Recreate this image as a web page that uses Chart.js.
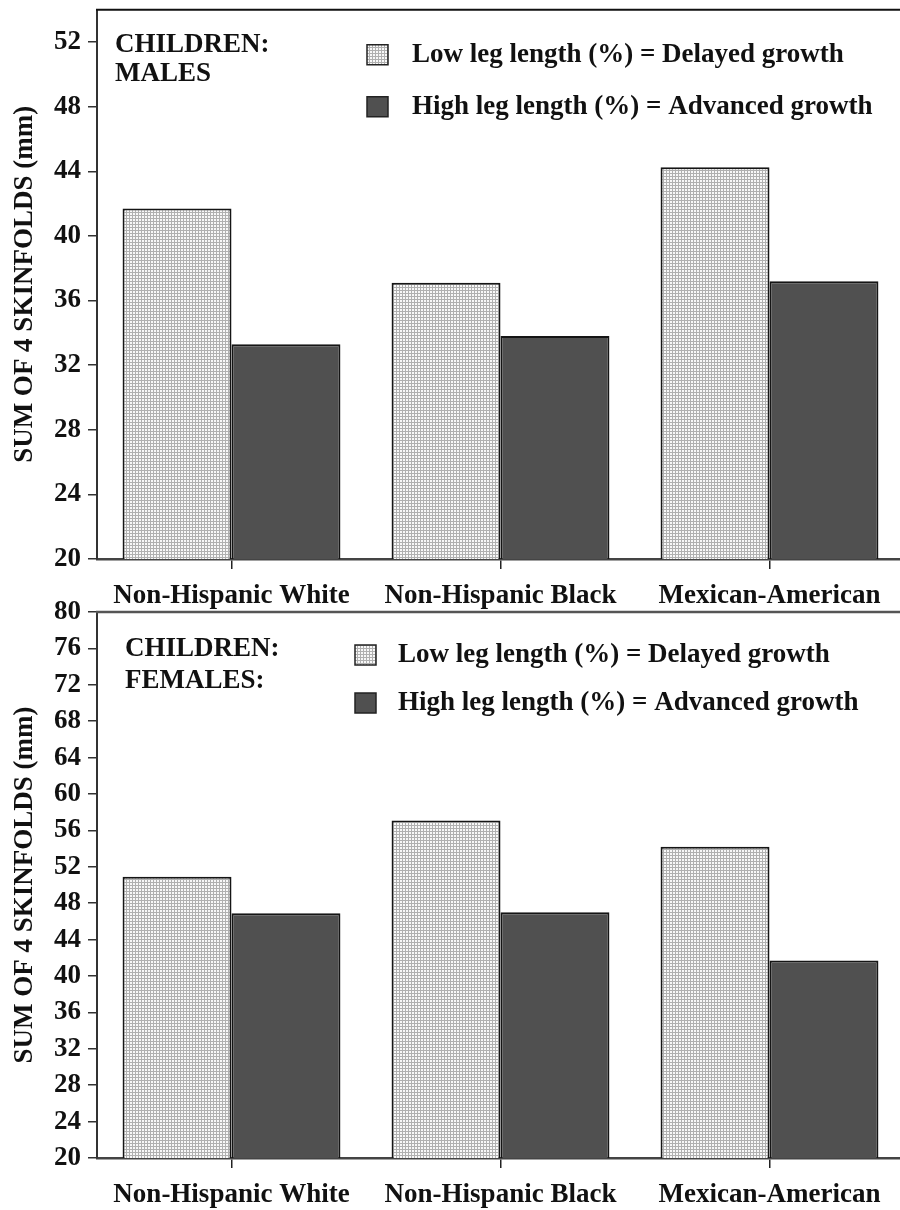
<!DOCTYPE html>
<html>
<head>
<meta charset="utf-8">
<script src="https://cdn.jsdelivr.net/npm/chart.js@4.4.1/dist/chart.umd.min.js"></script>
<style>
    html, body { margin: 0; padding: 0; background: #fff; width: 900px; height: 1210px; overflow: hidden; }
    .panel { position: absolute; left: 0; width: 906px; }
    #topPanel { top: -4px; height: 615px; }
    #bottomPanel { top: 585px; height: 625px; }
</style>
</head>
<body>
<div class="panel" id="topPanel"><canvas id="malesChart"></canvas></div>
<div class="panel" id="bottomPanel"><canvas id="femalesChart"></canvas></div>
<script>
// Sum of 4 skinfolds (mm) by leg length group
const categories = ['Non-Hispanic White', 'Non-Hispanic Black', 'Mexican-American'];
const seriesLabels = ['Low leg length (%) = Delayed growth', 'High leg length (%) = Advanced growth'];

const malesLow = [41.7, 37.1, 44.25];
const malesHigh = [33.3, 33.8, 37.2];
const femalesLow = [50.9, 57.1, 54.2];
const femalesHigh = [46.9, 47.0, 41.7];

const malesNote = ['CHILDREN:', 'MALES'];
const femalesNote = ['CHILDREN:', 'FEMALES:'];

const yTitle = 'SUM OF 4 SKINFOLDS (mm)';
const FONT = '"Liberation Serif", "Times New Roman", serif';

function makeGridPattern(ctx) {
    const tile = document.createElement('canvas');
    tile.width = 3;
    tile.height = 3;
    const t = tile.getContext('2d');
    t.fillStyle = '#f8f8f8';
    t.fillRect(0, 0, 3, 3);
    t.fillStyle = '#b0b0b0';
    t.fillRect(0, 0, 3, 1);
    t.fillRect(0, 0, 1, 3);
    return ctx.createPattern(tile, 'repeat');
}

// top frame line + note text + legend drawn inside the plot area
const panelDecor = {
    id: 'panelDecor',
    afterDraw(chart, args, opts) {
        const { ctx, chartArea } = chart;
        ctx.save();
        ctx.strokeStyle = opts.frameColor;
        ctx.lineWidth = opts.frameWidth;
        ctx.beginPath();
        ctx.moveTo(chartArea.left - 1, chartArea.top);
        ctx.lineTo(chart.width, chartArea.top);
        ctx.stroke();

        ctx.fillStyle = '#111';
        ctx.font = 'bold 27px ' + FONT;
        ctx.textBaseline = 'middle';
        ctx.textAlign = 'left';
        opts.note.forEach((line, i) => {
            ctx.fillText(line, chartArea.left + opts.noteX, chartArea.top + opts.noteY[i]);
        });

        chart.data.datasets.forEach((ds, i) => {
            const bx = chartArea.left + opts.legendX;
            const cy = chartArea.top + opts.legendY[i];
            ctx.fillStyle = ds.backgroundColor;
            ctx.fillRect(bx, cy - 10, 21, 20);
            ctx.strokeStyle = '#222';
            ctx.lineWidth = 1.5;
            ctx.strokeRect(bx, cy - 10, 21, 20);
            ctx.fillStyle = '#111';
            ctx.fillText(ds.label, bx + opts.textGap, cy);
        });
        ctx.restore();
    }
};

function createPanelChart(canvasId, lowValues, highValues, yMax, padTop, decor) {
    const el = document.getElementById(canvasId);
    const ctx = el.getContext('2d');

    return new Chart(el, {
        type: 'bar',
        data: {
            labels: categories,
            datasets: [
                {
                    label: seriesLabels[0],
                    data: lowValues,
                    backgroundColor: makeGridPattern(ctx),
                    borderColor: '#151515',
                    borderWidth: 2,
                    categoryPercentage: 0.81,
                    barPercentage: 1.0
                },
                {
                    label: seriesLabels[1],
                    data: highValues,
                    backgroundColor: '#505050',
                    borderColor: '#151515',
                    borderWidth: 2,
                    categoryPercentage: 0.81,
                    barPercentage: 1.0
                }
            ]
        },
        options: {
            responsive: true,
            maintainAspectRatio: false,
            animation: false,
            layout: { padding: { top: padTop, right: 2, left: 0, bottom: 0 } },
            scales: {
                x: {
                    afterFit: (scale) => {
                        scale.height = 52;
                    },
                    grid: {
                        display: true,
                        offset: false,
                        drawOnChartArea: false,
                        drawTicks: true,
                        tickLength: 10,
                        color: '#222',
                        lineWidth: 1.5
                    },
                    border: { display: true, color: '#444', width: 2.5 },
                    ticks: {
                        color: '#111',
                        font: { family: FONT, size: 27, weight: 'bold' },
                        padding: 11,
                        maxRotation: 0,
                        autoSkip: false
                    }
                },
                y: {
                    min: 20,
                    max: yMax,
                    afterBuildTicks: (scale) => {
                        scale.ticks = scale.ticks.filter(t => t.value % 4 === 0);
                    },
                    afterFit: (scale) => {
                        scale.width = 97;
                    },
                    grid: {
                        display: true,
                        drawOnChartArea: false,
                        drawTicks: true,
                        tickLength: 9,
                        color: '#333',
                        lineWidth: 1.5
                    },
                    border: { display: true, color: '#333', width: 2 },
                    ticks: {
                        stepSize: 4,
                        color: '#111',
                        padding: 7,
                        font: { family: FONT, size: 27, weight: 'bold', lineHeight: 0.5 }
                    },
                    title: {
                        display: true,
                        text: yTitle,
                        color: '#111',
                        font: { family: FONT, size: 27, weight: 'bold' },
                        padding: { top: 9, bottom: 0 }
                    }
                }
            },
            plugins: {
                legend: { display: false },
                tooltip: { enabled: false },
                panelDecor: decor
            }
        },
        plugins: [panelDecor]
    });
}

window.malesChartInstance = createPanelChart('malesChart', malesLow, malesHigh, 54, 9, {
    frameColor: '#111', frameWidth: 2,
    note: malesNote, noteX: 18, noteY: [35, 64],
    legendX: 270, legendY: [45, 97], textGap: 45
});

window.femalesChartInstance = createPanelChart('femalesChart', femalesLow, femalesHigh, 80, 27, {
    frameColor: '#555', frameWidth: 2.5,
    note: femalesNote, noteX: 28, noteY: [37, 69],
    legendX: 258, legendY: [43, 91], textGap: 43
});
</script>
</body>
</html>
